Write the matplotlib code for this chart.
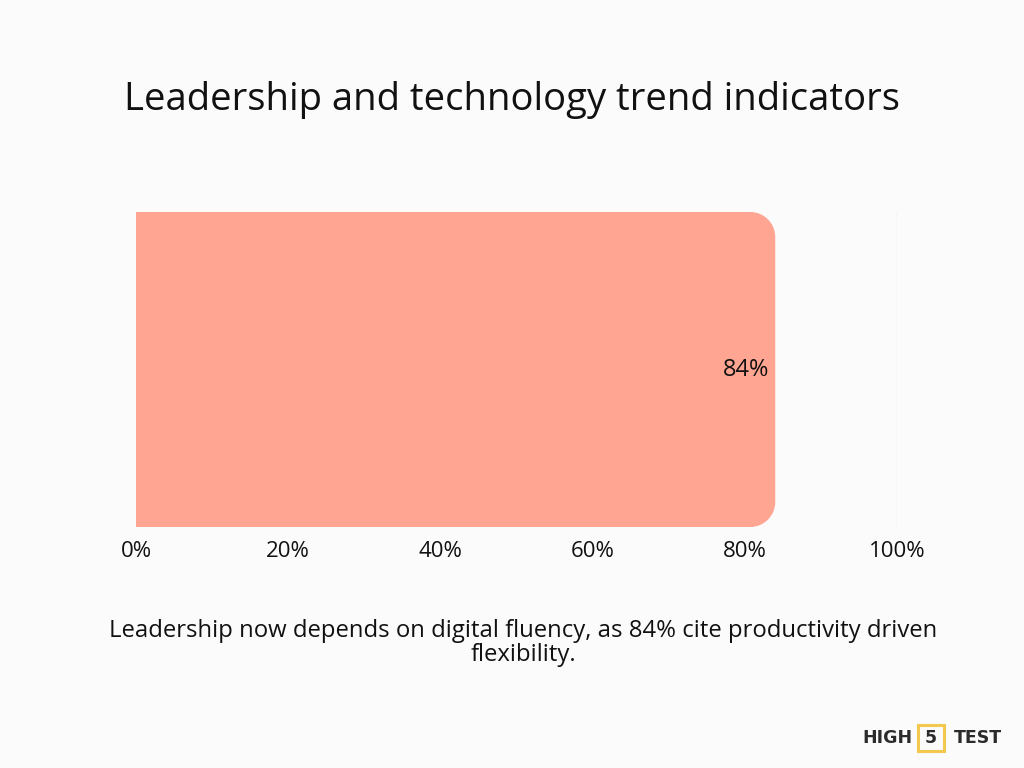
import matplotlib
matplotlib.use("Agg")
import matplotlib.pyplot as plt
from matplotlib.path import Path
from matplotlib.patches import PathPatch, Rectangle
from matplotlib.transforms import IdentityTransform

categories = ["Productivity driven flexibility"]
values = [84]
xticks = [0, 20, 40, 60, 80, 100]
xtick_labels = ["0%", "20%", "40%", "60%", "80%", "100%"]
title = "Leadership and technology trend indicators"
caption = "Leadership now depends on digital fluency, as 84% cite productivity driven\nflexibility."

FONT = ["Open Sans", "DejaVu Sans"]
BG = "#fbfbfb"
BAR = "#ffa591"

fig = plt.figure(figsize=(10.24, 7.68), dpi=100, facecolor=BG)
ax = fig.add_axes([136/1024, 1-527/768, (897-136)/1024, (527-212)/768])
ax.set_facecolor(BG)
ax.set_xlim(0, 100)
ax.set_ylim(-0.5, 0.5)

bars = ax.barh(categories, values, height=1.0, color=BAR)
ax.axvline(100, color="#e2e2e2", lw=1.0, zorder=0)

fig.canvas.draw()
r = 25
for b in bars:
    b.set_visible(False)
    (x0, y0), (x1, y1) = ax.transData.transform([(b.get_x(), b.get_y()), (b.get_x()+b.get_width(), b.get_y()+b.get_height())])
    k = 0.5523
    verts = [(x0, y0), (x1 - r, y0),
             (x1 - r + r*k, y0), (x1, y0 + r - r*k), (x1, y0 + r),
             (x1, y1 - r),
             (x1, y1 - r + r*k), (x1 - r + r*k, y1), (x1 - r, y1),
             (x0, y1), (x0, y0)]
    codes = [Path.MOVETO, Path.LINETO,
             Path.CURVE4, Path.CURVE4, Path.CURVE4,
             Path.LINETO,
             Path.CURVE4, Path.CURVE4, Path.CURVE4,
             Path.LINETO, Path.CLOSEPOLY]
    p = PathPatch(Path(verts, codes), facecolor=BAR, edgecolor="none", transform=IdentityTransform(),
                  zorder=2, clip_on=False)
    ax.add_artist(p)
    ax.text(b.get_width() - 0.8, b.get_y() + b.get_height()/2, f"{values[0]}%", ha="right", va="center",
            fontsize=17, family=FONT, color="#111111", zorder=5)

for s in ax.spines.values():
    s.set_visible(False)
ax.set_yticks([])
ax.set_xticks(xticks)
ax.set_xticklabels(xtick_labels, family=FONT, fontsize=16, color="#111111")
ax.tick_params(axis="x", length=0, pad=10)

fig.text(512/1024, 1-100/768, title, ha="center", va="center", fontsize=27.5, family=FONT, color="#111111")
fig.text(523/1024, 1-643/768, caption, ha="center", va="center", fontsize=17.2, family=FONT,
         color="#111111", linespacing=1.0)

# logo
LF = ["DejaVu Sans"]
fig.text(887/1024, 1-738/768, "HIGH", ha="center", va="center", fontsize=12.5, weight="bold", family=LF, color="#2b2b2b")
fig.text(931/1024, 1-738/768, "5", ha="center", va="center", fontsize=12.5, weight="bold", family=LF, color="#2b2b2b")
fig.patches.append(Rectangle((918/1024, 1-751/768), 26/1024, 26/768, transform=fig.transFigure,
                             fill=False, edgecolor="#f2c94c", lw=2.2))
fig.text(978/1024, 1-738/768, "TEST", ha="center", va="center", fontsize=12.5, weight="bold", family=LF, color="#2b2b2b")

fig.savefig("out.png", dpi=100, facecolor=BG)
